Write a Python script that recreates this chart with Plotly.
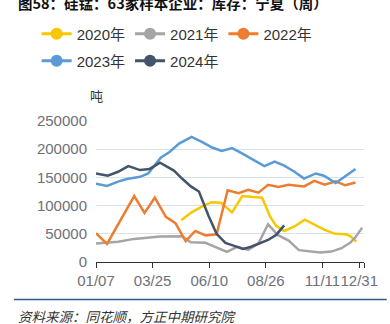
import pandas as pd
import plotly.graph_objects as go

# Ningxia silicomanganese inventory (63 sample producers), tonnes.
# x values are days counted from 01/07 of each year.
day_2020 = [116, 130, 144, 157, 170, 185, 199, 213, 226, 237, 245, 256, 270, 284, 298, 311, 325, 340, 346, 354]
inv_2020 = [74000, 88000, 98000, 106000, 105000, 88000, 117000, 116000, 114000, 80000, 64000, 55000, 63000, 75000,
            65000, 57000, 50000, 49000, 46000, 36000]

day_2021 = [0, 30, 52, 69, 87, 117, 129, 149, 164, 178, 192, 207, 221, 234, 247, 262, 276, 291, 305, 320, 334,
            346, 353, 362]
inv_2021 = [33000, 36000, 41000, 43500, 45000, 45500, 35000, 34000, 26000, 18000, 27000, 21500, 33000, 67000,
            48000, 38000, 21000, 18500, 17000, 18500, 24500, 34500, 44000, 61000]

day_2022 = [0, 15, 52, 66, 80, 95, 108, 122, 135, 149, 164, 179, 194, 207, 221, 234, 248, 262, 283, 297, 311,
            326, 339, 353]
inv_2022 = [51000, 32000, 117000, 87000, 114000, 80000, 69000, 37000, 55000, 47000, 49000, 127000, 122000,
            128000, 123000, 137000, 133000, 137000, 134000, 144000, 137000, 143000, 136000, 141000]

day_2023 = [0, 15, 31, 42, 60, 71, 88, 100, 113, 130, 144, 158, 171, 185, 198, 214, 229, 243, 256, 270, 283,
            299, 310, 326, 339, 353]
inv_2023 = [139000, 135000, 143000, 147000, 151000, 157000, 185000, 195000, 210000, 222000, 213000, 203000,
            197000, 202000, 193000, 181000, 170000, 178000, 171000, 160000, 148000, 157000, 153000, 140000,
            152000, 165000]

day_2024 = [0, 16, 30, 44, 60, 73, 87, 106, 117, 129, 140, 153, 164, 176, 187, 200, 211, 222, 234, 245, 256]
inv_2024 = [157000, 153000, 160000, 170000, 163000, 165000, 176000, 162000, 148000, 134000, 125000, 82000,
            50000, 34000, 29000, 23000, 27000, 33000, 39000, 48000, 65000]

tick_labels = ["01/07", "03/25", "06/10", "08/26", "11/11", "12/31"]
y_ticks = [0, 50000, 100000, 150000, 200000, 250000]

series = [
    ("2020年", day_2020, inv_2020, "#F7C800", "legend"),
    ("2021年", day_2021, inv_2021, "#A5A5A5", "legend"),
    ("2022年", day_2022, inv_2022, "#ED7D31", "legend"),
    ("2023年", day_2023, inv_2023, "#5B9BD5", "legend2"),
    ("2024年", day_2024, inv_2024, "#44546A", "legend2"),
]

# a non-leap reference year so every series shares one month/day axis
base = pd.Timestamp("2023-01-07")


def to_dates(days):
    return [base + pd.Timedelta(days=d) for d in days]


W, H = 390, 324
L, R, T, B = 96, 23, 121, 62
PW, PH = W - L - R, H - T - B


def px(x):
    return (x - L) / PW


def py(y):
    return (H - B - y) / PH


fig = go.Figure()
for name, days, vals, color, lg in series:
    fig.add_trace(go.Scatter(
        x=to_dates(days), y=vals, mode="lines", name=name,
        line=dict(color=color, width=2.5), showlegend=False, legendgroup=name,
    ))
    # legend entry with a dot on the line sample
    fig.add_trace(go.Scatter(
        x=[None], y=[None], mode="lines+markers", name=name, legendgroup=name,
        line=dict(color=color, width=3), marker=dict(color=color, size=12),
        legend=lg,
    ))

tick_dates = [pd.Timestamp("2023/" + t) for t in tick_labels]
x_end = base + pd.Timedelta(days=364.5)

font_main = "Liberation Sans, Arial, Noto Sans CJK SC, sans-serif"
legend_common = dict(
    orientation="h", xanchor="left", yanchor="middle", bgcolor="rgba(0,0,0,0)",
    font=dict(family=font_main, size=15, color="#333333"),
    itemclick=False, itemdoubleclick=False,
)

fig.update_layout(
    width=W, height=H, margin=dict(l=L, r=R, t=T, b=B),
    paper_bgcolor="white", plot_bgcolor="white",
    font=dict(family=font_main),
    legend=dict(x=px(36), y=py(34), **legend_common),
    legend2=dict(x=px(36), y=py(61), **legend_common),
    xaxis=dict(
        type="date", range=[base, x_end],
        tickvals=tick_dates + [x_end], ticktext=tick_labels + [""], tickangle=0,
        showgrid=False, showline=True, linecolor="#333333", linewidth=1,
        ticks="outside", ticklen=5, tickcolor="#333333",
        tickfont=dict(size=15, color="#6E7079"),
        zeroline=False,
    ),
    yaxis=dict(
        range=[0, 250000], tickvals=y_ticks, ticktext=[str(v) for v in y_ticks],
        showgrid=True, gridcolor="#DAE1EE", gridwidth=1,
        zeroline=False, showline=False, ticks="",
        tickfont=dict(size=15, color="#6E7079"), ticklabelstandoff=8,
    ),
    annotations=[
        dict(text="<b>图58：硅锰：63家样本企业：库存：宁夏（周）</b>", x=px(15), y=py(3),
             xref="paper", yref="paper", xanchor="left", yanchor="middle", showarrow=False,
             font=dict(family="Noto Sans CJK SC", size=14.5, color="#111111")),
        dict(text="吨", x=px(96), y=py(95), xref="paper", yref="paper",
             xanchor="center", yanchor="middle", showarrow=False,
             font=dict(family="Noto Sans CJK SC", size=13, color="#333333")),
        dict(text="<i>资料来源：同花顺，方正中期研究院</i>", x=px(15), y=py(315.5),
             xref="paper", yref="paper", xanchor="left", yanchor="middle", showarrow=False,
             font=dict(family="Noto Sans CJK SC", size=13.5, color="#333333")),
    ],
    shapes=[
        dict(type="line", xref="paper", yref="paper", x0=px(13), x1=px(390), y0=py(299.5), y1=py(299.5),
             line=dict(color="#2E5C8A", width=1.5)),
    ],
)

fig.write_html("out.html")
